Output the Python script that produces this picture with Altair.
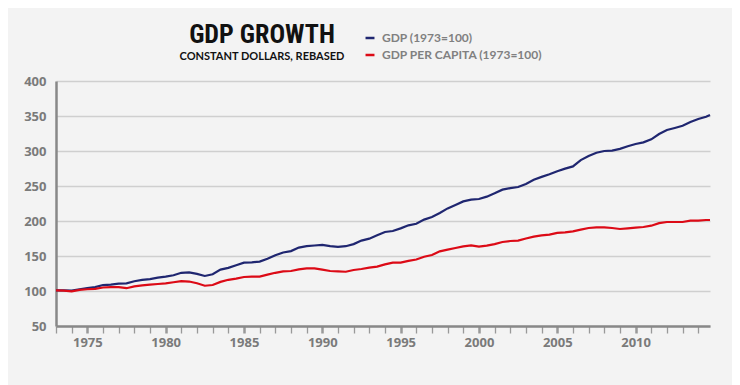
import altair as alt
import pandas as pd

years = [1973.0, 1973.5, 1974.0, 1974.5, 1975.0, 1975.5, 1976.0, 1976.5, 1977.0, 1977.5,
         1978.0, 1978.5, 1979.0, 1979.5, 1980.0, 1980.5, 1981.0, 1981.5, 1982.0, 1982.5,
         1983.0, 1983.5, 1984.0, 1984.5, 1985.0, 1985.5, 1986.0, 1986.5, 1987.0, 1987.5,
         1988.0, 1988.5, 1989.0, 1989.5, 1990.0, 1990.5, 1991.0, 1991.5, 1992.0, 1992.5,
         1993.0, 1993.5, 1994.0, 1994.5, 1995.0, 1995.5, 1996.0, 1996.5, 1997.0, 1997.5,
         1998.0, 1998.5, 1999.0, 1999.5, 2000.0, 2000.5, 2001.0, 2001.5, 2002.0, 2002.5,
         2003.0, 2003.5, 2004.0, 2004.5, 2005.0, 2005.5, 2006.0, 2006.5, 2007.0, 2007.5,
         2008.0, 2008.5, 2009.0, 2009.5, 2010.0, 2010.5, 2011.0, 2011.5, 2012.0, 2012.5,
         2013.0, 2013.5, 2014.0, 2014.5, 2014.75]

gdp = [101, 101, 100.5, 102.5, 104, 105.5, 108.5, 109, 110.5, 111,
       114, 116, 117, 119, 120.5, 122.5, 126, 126.5, 124.5, 121.5,
       124, 130.5, 133, 136.7, 140.5, 141, 142, 146, 151, 155,
       157, 162, 164, 165, 166, 164, 163, 164, 167, 172,
       174.8, 179.5, 184.3, 185.7, 189.5, 193.8, 196, 202, 205.7, 211.4,
       218, 223, 228, 230.5, 231.4, 234.8, 239.5, 244.8, 247, 248.6,
       253, 259, 263, 266.7, 271, 274.8, 278, 287, 292.9, 297.6,
       300, 300.5, 303, 306.7, 310, 312.4, 316.7, 324.3, 330, 332.9,
       336, 341.4, 345.7, 349, 351.4]

gdp_pc = [101, 100.5, 99.5, 101.5, 102.5, 103, 105, 105.5, 105.5, 104,
          106.5, 108, 109, 110, 111, 112.5, 114, 113.5, 111, 107.5,
          108.6, 113, 116, 117.6, 120, 120.5, 120.5, 123.3, 126, 128,
          128.6, 131, 132.4, 132.4, 130.5, 128.6, 128, 127.5, 130, 131.4,
          133.3, 134.8, 138, 140.5, 140.5, 143, 145, 149, 151.4, 156.7,
          159, 161.4, 163.8, 165.2, 163.3, 164.8, 167, 170, 171.4, 172,
          175, 177.6, 179.5, 180.5, 183, 183.8, 185.2, 187.6, 190, 191,
          191, 190, 188.6, 189.5, 190.5, 191.4, 193.3, 197, 198.6, 198.6,
          198.6, 200.5, 200.5, 201.4, 201.4]

series_names = ["GDP (1973=100)", "GDP PER CAPITA (1973=100)"]
series_colors = ["#1f2670", "#dc0a16"]
year_ticks = list(range(1973, 2015))
y_ticks = [50, 100, 150, 200, 250, 300, 350, 400]
title_text = ["GDP GROWTH"]
subtitle_text = ["CONSTANT DOLLARS, REBASED"]

df = pd.concat([
    pd.DataFrame({"year": years, "value": gdp, "series": series_names[0]}),
    pd.DataFrame({"year": years, "value": gdp_pc, "series": series_names[1]}),
])

AXIS_FONT = "Open Sans"
GRAY = "#7a7a7a"

lines = alt.Chart(df).mark_line(strokeWidth=2.2).encode(
    x=alt.X("year:Q",
            scale=alt.Scale(domain=[1973, 2014.75], nice=False, zero=False),
            axis=alt.Axis(values=year_ticks, title=None, grid=False,
                          labelExpr="datum.value % 5 === 0 ? datum.label : ''",
                          format="d", labelFont=AXIS_FONT, labelFontWeight="bold",
                          labelFontSize=13, labelColor=GRAY, labelPadding=3,
                          domainColor="#888888", domainWidth=2.5,
                          tickColor="#999999", tickSize=7,
                          tickWidth={"condition": {"test": "datum.value % 5 === 0", "value": 2.5}, "value": 1.3},
                          labelFlush=False, labelOverlap=False)),
    y=alt.Y("value:Q",
            scale=alt.Scale(domain=[50, 400], nice=False, zero=False),
            axis=alt.Axis(values=y_ticks, title=None, grid=True, gridColor="#cfcfcf",
                          gridWidth=1.3, ticks=False, labelPadding=10,
                          labelFont=AXIS_FONT, labelFontWeight="bold", labelFontSize=13,
                          labelColor=GRAY, domainColor="#888888", domainWidth=2.5)),
    color=alt.Color("series:N",
                    scale=alt.Scale(domain=series_names, range=series_colors),
                    legend=alt.Legend(title=None, orient="none", legendX=308, legendY=-49,
                                      symbolType="stroke", symbolSize=80,
                                      symbolStrokeWidth=2.5, labelFont="Lato",
                                      labelFontWeight="bold", labelFontSize=12,
                                      labelColor="#808080", rowPadding=5, labelOffset=6,
                                      labelLimit=0)),
)

title = alt.Chart(pd.DataFrame({"t": title_text})).mark_text(
    font="'Roboto Condensed', 'Liberation Sans Narrow', 'Arial Narrow', Roboto, sans-serif",
    fontSize=26, fontWeight="bold", color="#111111", align="center", baseline="alphabetic",
).encode(x=alt.value(206), y=alt.value(-38), text="t:N")

subtitle = alt.Chart(pd.DataFrame({"t": subtitle_text})).mark_text(
    font="Lato", fontSize=11, fontWeight="bold", color="#111111",
    align="center", baseline="alphabetic",
).encode(x=alt.value(206), y=alt.value(-21), text="t:N")

chart = alt.layer(lines, title, subtitle).properties(
    width=654,
    height=245,
    background="#f3f3f3",
    padding={"left": 48, "top": 73, "right": 22, "bottom": 60},
    autosize=alt.AutoSizeParams(type="none"),
).configure_view(stroke=None)

chart.save("out.html", embed_options={"renderer": "svg", "actions": False})
